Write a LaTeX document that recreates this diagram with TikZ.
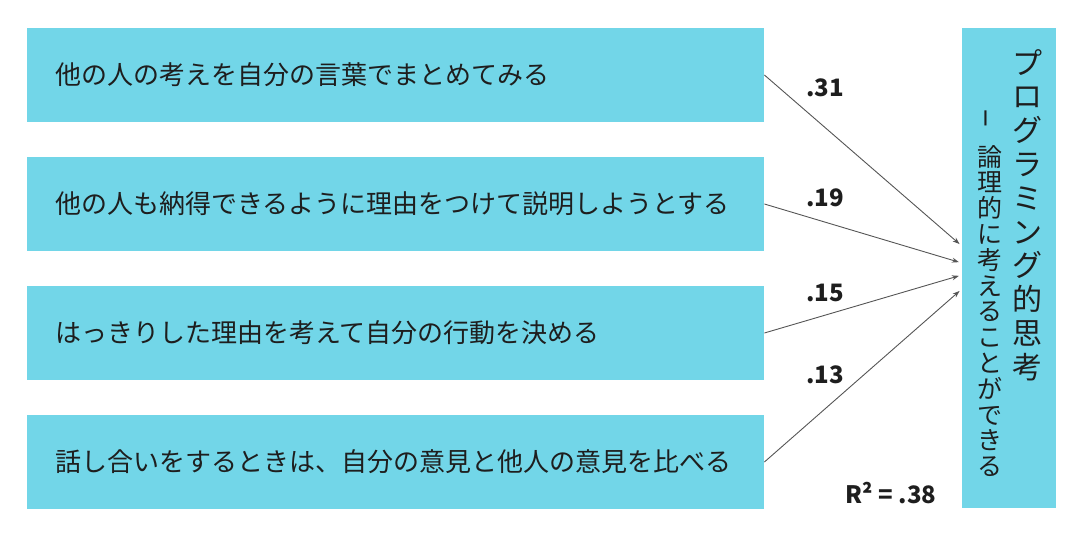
\documentclass[tikz,border=0pt]{standalone}
\usepackage{fontspec}
\usepackage{graphicx}
\setmainfont{Noto Sans CJK JP}
\usetikzlibrary{arrows.meta}
\definecolor{boxblue}{RGB}{114,214,232}
\definecolor{inkgray}{RGB}{85,85,85}
\definecolor{textdark}{RGB}{30,30,30}

\begin{document}
\begin{tikzpicture}[x=1pt, y=-1pt,
    itembox/.style={fill=boxblue, minimum height=94pt, text width=681pt, inner xsep=28pt, align=left, text=textdark, font=\fontsize{26}{30}\selectfont},
    goalbox/.style={fill=boxblue, minimum width=94pt, minimum height=480pt},
    titlecol/.style={align=center, inner sep=0pt, text=textdark, font=\fontsize{30}{33.8}\selectfont},
    subcol/.style={align=center, inner sep=0pt, text=textdark, font=\fontsize{25}{25.8}\selectfont},
    coef/.style={text=textdark, font=\bfseries\fontsize{24}{28}\selectfont},
    effect/.style={draw=inkgray, line width=0.9pt, -{Stealth[length=7pt,width=5pt]}, shorten >=3pt}
]
    \useasboundingbox (0,0) rectangle (1083,537);

    % Draw the item boxes
    \foreach \i/\y/\txt in {1/75/他の人の考えを自分の言葉でまとめてみる,
                            2/204/他の人も納得できるように理由をつけて説明しようとする,
                            3/333/はっきりした理由を考えて自分の行動を決める,
                            4/462/話し合いをするときは、自分の意見と他人の意見を比べる}
        \node[itembox, anchor=west] (item\i) at (27,\y) {\txt};

    % Draw the goal box with its vertical text
    \node[goalbox] (goal) at (1009,268) {};
    \node[titlecol] (title) at (1027,215) {プ\\ロ\\グ\\ラ\\ミ\\ン\\グ\\的\\思\\考};
    \node[subcol] (subtitle) at (990,311) {論\\理\\的\\に\\考\\え\\る\\こ\\と\\が\\で\\き\\る};
    \node[subcol, font=\fontsize{34}{34}\selectfont] (dash) at (990,118) {\rotatebox{90}{–}};

    % Define coordinates for the arrow ends
    \foreach \i/\dy in {1/22, 2/5, 3/-7, 4/-21}
        \coordinate (in\i) at ([yshift=\dy pt]goal.west);

    % Connect the items to the goal
    \foreach \i in {1, ..., 4}
        \draw[effect] (item\i.east) -- (in\i);

    % Label the coefficients
    \foreach \i/\y/\val in {1/88/.31, 2/198/.19, 3/293/.15, 4/375/.13}
        \node[coef] (w\i) at (825,\y) {\val};
    \node[coef] (rsq) at (891,493) {R² = .38};
\end{tikzpicture}
\end{document}
